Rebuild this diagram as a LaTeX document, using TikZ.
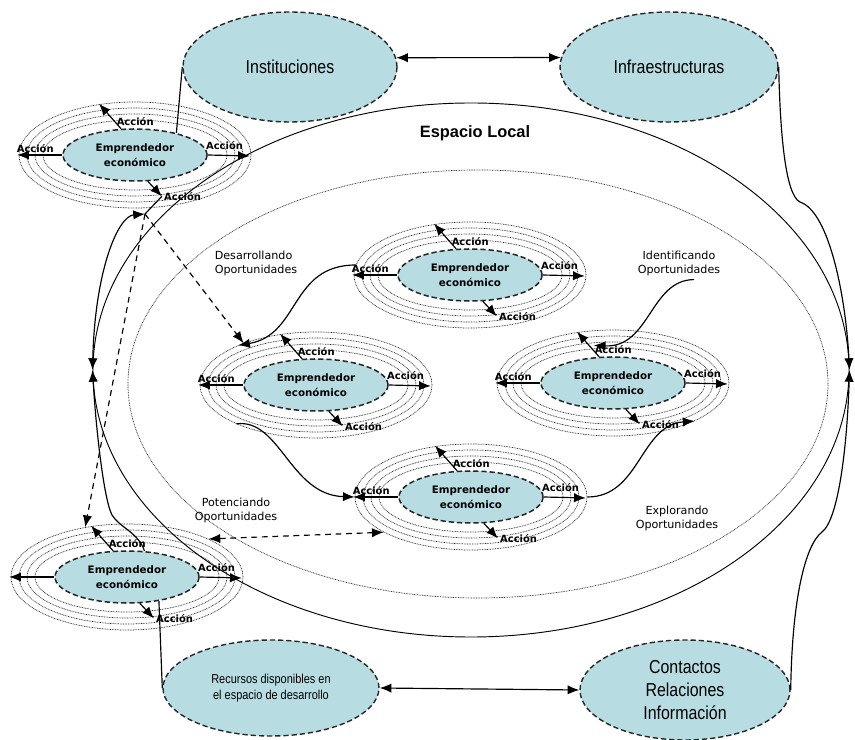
\documentclass[tikz,border=0pt]{standalone}
\usepackage{fontspec}
\setmainfont{DejaVu Sans}
\newfontfamily\arialfont{Liberation Sans}
\newfontfamily\narrowfont[FakeStretch=0.85]{Liberation Sans}
\usepackage{tikz}
\usetikzlibrary{shapes.geometric, arrows.meta}
\definecolor{elfill}{RGB}{183,221,227}
\tikzset{
  big/.style={shape=ellipse, draw=black!85, line width=1.2pt, dash pattern=on 4.5pt off 2.5pt, fill=elfill, inner sep=0pt, align=center, font=\narrowfont\fontsize{16}{20}\selectfont},
  emp/.style={shape=ellipse, draw=black!85, line width=1.3pt, dash pattern=on 4.5pt off 2.5pt, fill=elfill, minimum width=4.32cm, minimum height=1.56cm, inner sep=0pt, align=center, font=\bfseries\fontsize{8.8}{13}\selectfont},
  ring/.style={draw=black!85, line width=0.6pt, dash pattern=on 0.7pt off 0.7pt},
  act/.style={->, line width=1pt},
  con/.style={line width=1pt},
  dsh/.style={line width=1pt, dash pattern=on 5pt off 4pt},
  lbl/.style={font=\bfseries\fontsize{8.5}{10}\selectfont, inner sep=1.5pt},
  txt/.style={font=\fontsize{9.5}{12}\selectfont, align=center}
}

\begin{document}
\begin{tikzpicture}[x=0.03cm, y=-0.03cm, >={Latex[length=10pt,width=8pt]}]
\useasboundingbox (0,0) rectangle (855,740);

% espacio local
\node[shape=ellipse, draw=black, line width=0.8pt, minimum width=22.68cm, minimum height=16.02cm] (L) at (471,370) {};
\node[shape=ellipse, ring, minimum width=21cm, minimum height=12.84cm] (D) at (478,384) {};
\node[font=\arialfont\bfseries\fontsize{14}{16}\selectfont] (T) at (475,133) {Espacio Local};

% emprendedores
\foreach \i/\x/\y/\lab in {1/135/155/Acción, 2/470/275/Acción, 3/316/385/Acción, 4/613/383/Acción, 5/471/497/Acción, 6/127/577/{}} {
  \foreach \a/\b in {92/35, 100/41, 108/47}
    \draw[ring] (\x,\y) ellipse [x radius=\a, y radius=\b];
  \node[ring, shape=ellipse, minimum width=6.96cm, minimum height=3.18cm] (O\i) at (\x,\y) {};
  \node[emp] (E\i) at (\x,\y) {Emprendedor\\económico};
  \draw[act] (E\i.west) -- node[lbl, above, pos=0.6] {\lab} ++(-45,0) coordinate (l\i);
  \draw[act] (E\i.118) -- node[lbl, right, pos=0.3] {Acción} ++(-22,-25) coordinate (t\i);
  \draw[act] (E\i.east) -- node[lbl, above=3pt, pos=0.4] {Acción} ++(42,1) coordinate (r\i);
  \draw[act] (E\i.-64) -- ++(14,15) coordinate (b\i) node[lbl, right] {Acción};
}

% entorno
\node[big, minimum width=6.42cm, minimum height=3.3cm] (I) at (290,67) {Instituciones};
\node[big, minimum width=6.54cm, minimum height=3.3cm] (F) at (669,67) {Infraestructuras};
\node[big, minimum width=6.48cm, minimum height=2.88cm, font=\narrowfont\fontsize{11}{14}\selectfont] (R) at (271,688) {Recursos disponibles en\\el espacio de desarrollo};
\node[big, minimum width=6.3cm, minimum height=3cm] (K) at (685,690) {Contactos\\Relaciones\\Información};

\path[<->, con] (I.5) edge (F.175);
\path[<->, con] (R.east) edge (K.west);
\path[con] (I.west) edge (E1.28);
\path[con] (E6.-37) edge (R.west);

% lados
\coordinate (J) at (145,214);
\draw[con] (b1) -- (J);
\draw[con, <->] (J) .. controls (118,216) and (95,270) .. (L.west);
\draw[con, <-] (L.west) .. controls (96,430) and (104,500) .. (112,515) .. controls (120,528) and (138,532) .. (E6.56);
\draw[con, ->] (F.east) .. controls (780,130) and (785,195) .. (800,202) .. controls (830,212) and (846,300) .. (L.east);
\draw[con, <-] (L.east) .. controls (847,450) and (838,520) .. (822,532) .. controls (805,545) and (792,600) .. (K.east);

\draw[dsh, ->] (J) -- (O3.150);
\draw[dsh, ->] (J) -- (O6.130);
\draw[dsh, <->] (O6.25) -- (O5.202);

% oportunidades
\node[txt, align=left] (DO) at (256,263) {Desarrollando\\Oportunidades};
\node[txt] (IO) at (679,263) {Identificando\\Oportunidades};
\node[txt] (PO) at (236,510) {Potenciando\\Oportunidades};
\node[txt] (EO) at (677,518) {Explorando\\Oportunidades};

\draw[con, ->] (O2.175) .. controls (290,265) and (300,335) .. (O3.153);
\draw[con, ->] (O3.206) .. controls (280,418) and (290,495) .. (O5.west);
\draw[con, ->] (O5.east) .. controls (640,497) and (640,425) .. (O4.-25);
\draw[con, ->] ([xshift=0.45cm]IO.south) .. controls (650,280) and (650,348) .. ([yshift=-0.45cm]O4.110);
\end{tikzpicture}
\end{document}
